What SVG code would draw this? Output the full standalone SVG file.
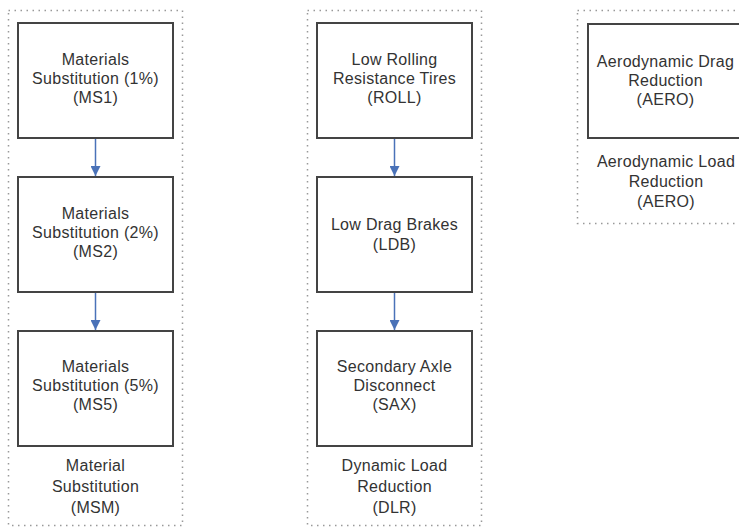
<svg xmlns="http://www.w3.org/2000/svg" width="739" height="529" viewBox="0 0 739 529">
<style>
.grp{fill:none;stroke:#999;stroke-width:1.5;stroke-dasharray:1.5 4.5}
.box{fill:#fff;stroke:#444;stroke-width:2}
.t{font-family:"Liberation Sans",Arial,sans-serif;font-size:16px;fill:#333;text-anchor:middle;letter-spacing:0.3px}
.c{stroke:#4a72b8;stroke-width:1.5;fill:none}
</style>
<defs>
<marker id="ah" viewBox="0 0 10 10" refX="10" refY="5" markerWidth="10" markerHeight="10" orient="auto" markerUnits="userSpaceOnUse">
<path d="M0,0 L10,5 L0,10 Z" fill="#4a72b8"/>
</marker>
</defs>
<rect width="739" height="529" fill="#fff"/>
<g id="grp-msm">
<rect class="grp" x="8.5" y="10.5" width="174" height="515"/>
<text class="t"><tspan x="95.5" y="471">Material</tspan><tspan x="95.5" y="492">Substitution</tspan><tspan x="95.5" y="513">(MSM)</tspan></text>
</g>
<g id="grp-dlr">
<rect class="grp" x="307.5" y="10.5" width="174" height="515"/>
<text class="t"><tspan x="394.5" y="471">Dynamic Load</tspan><tspan x="394.5" y="492">Reduction</tspan><tspan x="394.5" y="513">(DLR)</tspan></text>
</g>
<g id="grp-aero">
<rect class="grp" x="577.5" y="10.5" width="200" height="213"/>
<text class="t"><tspan x="666" y="167">Aerodynamic Load</tspan><tspan x="666" y="187">Reduction</tspan><tspan x="666" y="207">(AERO)</tspan></text>
</g>
<g id="ms1">
<rect class="box" x="18" y="23" width="155" height="115"/>
<text class="t"><tspan x="95.5" y="65">Materials</tspan><tspan x="95.5" y="84">Substitution (1%)</tspan><tspan x="95.5" y="103">(MS1)</tspan></text>
</g>
<g id="ms2">
<rect class="box" x="18" y="177" width="155" height="115"/>
<text class="t"><tspan x="95.5" y="219">Materials</tspan><tspan x="95.5" y="238">Substitution (2%)</tspan><tspan x="95.5" y="257">(MS2)</tspan></text>
</g>
<g id="ms5">
<rect class="box" x="18" y="331" width="155" height="115"/>
<text class="t"><tspan x="95.5" y="372">Materials</tspan><tspan x="95.5" y="391">Substitution (5%)</tspan><tspan x="95.5" y="410">(MS5)</tspan></text>
</g>
<g id="roll">
<rect class="box" x="317" y="23" width="155" height="115"/>
<text class="t"><tspan x="394.5" y="65">Low Rolling</tspan><tspan x="394.5" y="84">Resistance Tires</tspan><tspan x="394.5" y="103">(ROLL)</tspan></text>
</g>
<g id="ldb">
<rect class="box" x="317" y="177" width="155" height="115"/>
<text class="t"><tspan x="394.5" y="230">Low Drag Brakes</tspan><tspan x="394.5" y="250">(LDB)</tspan></text>
</g>
<g id="sax">
<rect class="box" x="317" y="331" width="155" height="115"/>
<text class="t"><tspan x="394.5" y="372">Secondary Axle</tspan><tspan x="394.5" y="391">Disconnect</tspan><tspan x="394.5" y="410">(SAX)</tspan></text>
</g>
<g id="aero">
<rect class="box" x="588" y="24" width="155" height="114"/>
<text class="t"><tspan x="665.5" y="67">Aerodynamic Drag</tspan><tspan x="665.5" y="86">Reduction</tspan><tspan x="665.5" y="105">(AERO)</tspan></text>
</g>
<g id="connectors">
<line class="c" x1="95.5" y1="139" x2="95.5" y2="176" marker-end="url(#ah)"/>
<line class="c" x1="95.5" y1="293" x2="95.5" y2="330" marker-end="url(#ah)"/>
<line class="c" x1="394.5" y1="139" x2="394.5" y2="176" marker-end="url(#ah)"/>
<line class="c" x1="394.5" y1="293" x2="394.5" y2="330" marker-end="url(#ah)"/>
</g>
</svg>
